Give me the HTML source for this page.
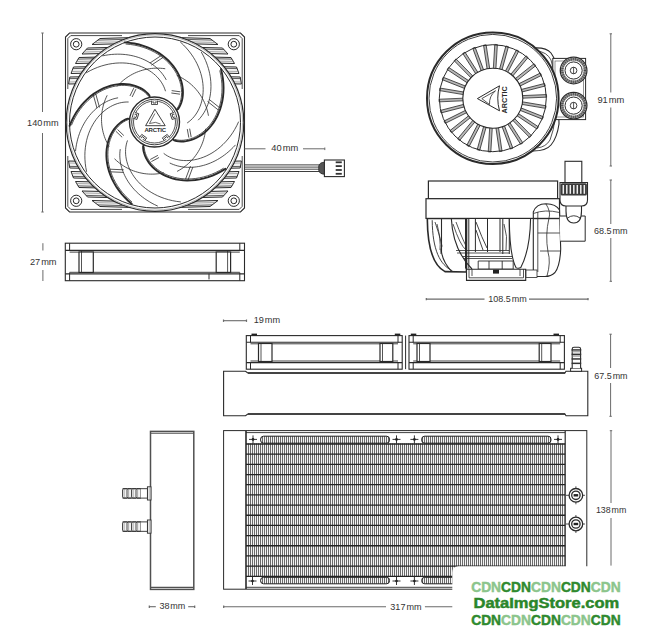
<!DOCTYPE html>
<html><head><meta charset="utf-8"><style>
html,body{margin:0;padding:0;background:#fff;}
body{width:658px;height:640px;overflow:hidden;}
svg{display:block;font-family:"Liberation Sans",sans-serif;}
</style></head><body>
<svg width="658" height="640" viewBox="0 0 658 640">
<path d="M69.5,33 H240.5 L244.5,37 V208 L240.5,212 H69.5 L65.5,208 V37 Z" fill="#fff" stroke="#2a2a2a" stroke-width="1.1"/>
<g fill="none" stroke="#2a2a2a" stroke-width="0.85"><path d="M122,35.6 H70.8 L67.8,38.6 V89"/><path d="M122,35.6 H70.8 L67.8,38.6 V89" transform="translate(310,0) scale(-1,1)"/><path d="M122,35.6 H70.8 L67.8,38.6 V89" transform="translate(0,245) scale(1,-1)"/><path d="M122,35.6 H70.8 L67.8,38.6 V89" transform="translate(310,245) scale(-1,-1)"/></g>
<circle cx="76.2" cy="44.2" r="5.6" fill="none" stroke="#2a2a2a" stroke-width="1"/>
<circle cx="76.2" cy="44.2" r="2.9" fill="none" stroke="#2a2a2a" stroke-width="1"/>
<circle cx="233.8" cy="44.2" r="5.6" fill="none" stroke="#2a2a2a" stroke-width="1"/>
<circle cx="233.8" cy="44.2" r="2.9" fill="none" stroke="#2a2a2a" stroke-width="1"/>
<circle cx="76.2" cy="200.8" r="5.6" fill="none" stroke="#2a2a2a" stroke-width="1"/>
<circle cx="76.2" cy="200.8" r="2.9" fill="none" stroke="#2a2a2a" stroke-width="1"/>
<circle cx="233.8" cy="200.8" r="5.6" fill="none" stroke="#2a2a2a" stroke-width="1"/>
<circle cx="233.8" cy="200.8" r="2.9" fill="none" stroke="#2a2a2a" stroke-width="1"/>
<defs><clipPath id="outring"><path clip-rule="evenodd" d="M67.8,35.3H242.2V209.7H67.8Z M155,122.5 m-88.8,0 a88.8,88.8 0 1,0 177.6,0 a88.8,88.8 0 1,0 -177.6,0Z"/></clipPath></defs>
<g clip-path="url(#outring)">
<g><path d="M100,38.5 L175,36.3 L175,42.3 L92,44.5 Z" fill="#f2f2f2" stroke="#2a2a2a" stroke-width="1"/><path d="M97.87,40.1 L175,37.9" fill="none" stroke="#3a3a3a" stroke-width="0.8"/><path d="M94.67,42.5 L175,40.3" fill="none" stroke="#8a8a8a" stroke-width="0.7"/><path d="M87.5,48 L175,45.8 L175,51.8 L82,54 Z" fill="#f2f2f2" stroke="#2a2a2a" stroke-width="1"/><path d="M86.03,49.6 L175,47.4" fill="none" stroke="#3a3a3a" stroke-width="0.8"/><path d="M83.83,52 L175,49.8" fill="none" stroke="#8a8a8a" stroke-width="0.7"/><path d="M79,57.5 L175,55.3 L175,61.3 L75.5,63.5 Z" fill="#f2f2f2" stroke="#2a2a2a" stroke-width="1"/><path d="M78.07,59.1 L175,56.9" fill="none" stroke="#3a3a3a" stroke-width="0.8"/><path d="M76.67,61.5 L175,59.3" fill="none" stroke="#8a8a8a" stroke-width="0.7"/><path d="M73.5,67 L175,64.8 L175,71.3 L71,73.5 Z" fill="#f2f2f2" stroke="#2a2a2a" stroke-width="1"/><path d="M72.88,68.6 L175,66.4" fill="none" stroke="#3a3a3a" stroke-width="0.8"/><path d="M71.77,71.5 L175,69.3" fill="none" stroke="#8a8a8a" stroke-width="0.7"/><path d="M69.8,77 L175,74.8 L175,81.8 L68.6,84 Z" fill="#f2f2f2" stroke="#2a2a2a" stroke-width="1"/><path d="M69.53,78.6 L175,76.4" fill="none" stroke="#3a3a3a" stroke-width="0.8"/><path d="M68.94,82 L175,79.8" fill="none" stroke="#8a8a8a" stroke-width="0.7"/></g>
<g transform="translate(310,0) scale(-1,1)"><path d="M100,38.5 L175,36.3 L175,42.3 L92,44.5 Z" fill="#f2f2f2" stroke="#2a2a2a" stroke-width="1"/><path d="M97.87,40.1 L175,37.9" fill="none" stroke="#3a3a3a" stroke-width="0.8"/><path d="M94.67,42.5 L175,40.3" fill="none" stroke="#8a8a8a" stroke-width="0.7"/><path d="M87.5,48 L175,45.8 L175,51.8 L82,54 Z" fill="#f2f2f2" stroke="#2a2a2a" stroke-width="1"/><path d="M86.03,49.6 L175,47.4" fill="none" stroke="#3a3a3a" stroke-width="0.8"/><path d="M83.83,52 L175,49.8" fill="none" stroke="#8a8a8a" stroke-width="0.7"/><path d="M79,57.5 L175,55.3 L175,61.3 L75.5,63.5 Z" fill="#f2f2f2" stroke="#2a2a2a" stroke-width="1"/><path d="M78.07,59.1 L175,56.9" fill="none" stroke="#3a3a3a" stroke-width="0.8"/><path d="M76.67,61.5 L175,59.3" fill="none" stroke="#8a8a8a" stroke-width="0.7"/><path d="M73.5,67 L175,64.8 L175,71.3 L71,73.5 Z" fill="#f2f2f2" stroke="#2a2a2a" stroke-width="1"/><path d="M72.88,68.6 L175,66.4" fill="none" stroke="#3a3a3a" stroke-width="0.8"/><path d="M71.77,71.5 L175,69.3" fill="none" stroke="#8a8a8a" stroke-width="0.7"/><path d="M69.8,77 L175,74.8 L175,81.8 L68.6,84 Z" fill="#f2f2f2" stroke="#2a2a2a" stroke-width="1"/><path d="M69.53,78.6 L175,76.4" fill="none" stroke="#3a3a3a" stroke-width="0.8"/><path d="M68.94,82 L175,79.8" fill="none" stroke="#8a8a8a" stroke-width="0.7"/></g>
<g transform="translate(0,245) scale(1,-1)"><path d="M100,38.5 L175,36.3 L175,42.3 L92,44.5 Z" fill="#f2f2f2" stroke="#2a2a2a" stroke-width="1"/><path d="M97.87,40.1 L175,37.9" fill="none" stroke="#3a3a3a" stroke-width="0.8"/><path d="M94.67,42.5 L175,40.3" fill="none" stroke="#8a8a8a" stroke-width="0.7"/><path d="M87.5,48 L175,45.8 L175,51.8 L82,54 Z" fill="#f2f2f2" stroke="#2a2a2a" stroke-width="1"/><path d="M86.03,49.6 L175,47.4" fill="none" stroke="#3a3a3a" stroke-width="0.8"/><path d="M83.83,52 L175,49.8" fill="none" stroke="#8a8a8a" stroke-width="0.7"/><path d="M79,57.5 L175,55.3 L175,61.3 L75.5,63.5 Z" fill="#f2f2f2" stroke="#2a2a2a" stroke-width="1"/><path d="M78.07,59.1 L175,56.9" fill="none" stroke="#3a3a3a" stroke-width="0.8"/><path d="M76.67,61.5 L175,59.3" fill="none" stroke="#8a8a8a" stroke-width="0.7"/><path d="M73.5,67 L175,64.8 L175,71.3 L71,73.5 Z" fill="#f2f2f2" stroke="#2a2a2a" stroke-width="1"/><path d="M72.88,68.6 L175,66.4" fill="none" stroke="#3a3a3a" stroke-width="0.8"/><path d="M71.77,71.5 L175,69.3" fill="none" stroke="#8a8a8a" stroke-width="0.7"/><path d="M69.8,77 L175,74.8 L175,81.8 L68.6,84 Z" fill="#f2f2f2" stroke="#2a2a2a" stroke-width="1"/><path d="M69.53,78.6 L175,76.4" fill="none" stroke="#3a3a3a" stroke-width="0.8"/><path d="M68.94,82 L175,79.8" fill="none" stroke="#8a8a8a" stroke-width="0.7"/></g>
<g transform="translate(310,245) scale(-1,-1)"><path d="M100,38.5 L175,36.3 L175,42.3 L92,44.5 Z" fill="#f2f2f2" stroke="#2a2a2a" stroke-width="1"/><path d="M97.87,40.1 L175,37.9" fill="none" stroke="#3a3a3a" stroke-width="0.8"/><path d="M94.67,42.5 L175,40.3" fill="none" stroke="#8a8a8a" stroke-width="0.7"/><path d="M87.5,48 L175,45.8 L175,51.8 L82,54 Z" fill="#f2f2f2" stroke="#2a2a2a" stroke-width="1"/><path d="M86.03,49.6 L175,47.4" fill="none" stroke="#3a3a3a" stroke-width="0.8"/><path d="M83.83,52 L175,49.8" fill="none" stroke="#8a8a8a" stroke-width="0.7"/><path d="M79,57.5 L175,55.3 L175,61.3 L75.5,63.5 Z" fill="#f2f2f2" stroke="#2a2a2a" stroke-width="1"/><path d="M78.07,59.1 L175,56.9" fill="none" stroke="#3a3a3a" stroke-width="0.8"/><path d="M76.67,61.5 L175,59.3" fill="none" stroke="#8a8a8a" stroke-width="0.7"/><path d="M73.5,67 L175,64.8 L175,71.3 L71,73.5 Z" fill="#f2f2f2" stroke="#2a2a2a" stroke-width="1"/><path d="M72.88,68.6 L175,66.4" fill="none" stroke="#3a3a3a" stroke-width="0.8"/><path d="M71.77,71.5 L175,69.3" fill="none" stroke="#8a8a8a" stroke-width="0.7"/><path d="M69.8,77 L175,74.8 L175,81.8 L68.6,84 Z" fill="#f2f2f2" stroke="#2a2a2a" stroke-width="1"/><path d="M69.53,78.6 L175,76.4" fill="none" stroke="#3a3a3a" stroke-width="0.8"/><path d="M68.94,82 L175,79.8" fill="none" stroke="#8a8a8a" stroke-width="0.7"/></g>
</g>
<circle cx="155" cy="122.5" r="88.8" fill="#fff" stroke="#2a2a2a" stroke-width="1.2"/>
<circle cx="155" cy="122.5" r="87.6" fill="none" stroke="#888" stroke-width="0.6"/>
<circle cx="155" cy="122.5" r="85.5" fill="none" stroke="#2a2a2a" stroke-width="1"/>
<g fill="none" stroke-linecap="round">
<path d="M187.49,122.74 L189.2,121.49 L190.85,120.08 L192.44,118.53 L193.96,116.82 L195.4,114.97 L196.75,112.98 L197.99,110.85 L199.13,108.59 L200.14,106.2 L201.03,103.69 L201.77,101.07 L202.37,98.33 L202.81,95.5 L203.09,92.58 L203.19,89.57 L203.11,86.49 L202.85,83.35 L202.4,80.16 L201.74,76.92 L200.88,73.65 L199.82,70.37 L198.54,67.08 L197.05,63.79 L195.34,60.53 L193.41,57.3 L191.26,54.11 L188.89,50.99 L186.29,47.94 L183.48,44.97 L180.46,42.11" stroke="#2a2a2a" stroke-width="0.8"/>
<path d="M198.45,119.89 L199.7,118.52 L200.91,117.08 L202.06,115.55 L203.17,113.94 L204.22,112.25 L205.21,110.48 L206.13,108.63 L206.99,106.71 L207.77,104.72 L208.47,102.66 L209.1,100.53 L209.64,98.34 L210.09,96.09 L210.46,93.78 L210.72,91.42 L210.89,89.01 L210.96,86.55 L210.92,84.05 L210.78,81.51 L210.53,78.94 L210.16,76.33 L209.68,73.7 L209.09,71.05 L208.37,68.39 L207.53,65.71 L206.57,63.03 L205.49,60.35 L204.27,57.68 L202.94,55.01 L201.47,52.36" stroke="#2a2a2a" stroke-width="0.8"/>
<path d="M208.4,115.38 L207.96,113.17 L207.44,110.99 L206.83,108.83 L206.13,106.71 L205.35,104.62 L204.48,102.56 L203.53,100.55 L202.5,98.59 L201.39,96.68 L200.2,94.81 L198.94,93 L197.61,91.25 L196.21,89.56 L194.74,87.93 L193.21,86.37 L191.62,84.88 L189.98,83.45 L188.28,82.1 L186.52,80.83 L184.73,79.63 L182.88,78.5 L181,77.46 L179.08,76.5 L177.12,75.62" stroke="#2a2a2a" stroke-width="0.8"/>
<path d="M207.84,101.69 L218.17,109.9 M209.46,99.65 L219.79,107.86" stroke="#2a2a2a" stroke-width="0.8"/>
<path d="M171.74,93.05 L179.59,94.13 M172.06,90.67 L179.92,91.75" stroke="#2a2a2a" stroke-width="0.8"/>
<path d="M165.39,90.85 L164.73,88.84 L163.91,86.84 L162.92,84.84 L161.77,82.87 L160.46,80.93 L158.98,79.03 L157.34,77.19 L155.54,75.41 L153.58,73.71 L151.46,72.09 L149.2,70.57 L146.78,69.16 L144.23,67.87 L141.53,66.7 L138.7,65.67 L135.75,64.79 L132.68,64.07 L129.5,63.52 L126.22,63.14 L122.85,62.95 L119.4,62.94 L115.88,63.14 L112.29,63.55 L108.66,64.16 L104.99,65 L101.29,66.06 L97.59,67.35 L93.89,68.87 L90.2,70.63 L86.54,72.63" stroke="#2a2a2a" stroke-width="0.8"/>
<path d="M166.07,79.55 L165.16,77.94 L164.16,76.34 L163.06,74.77 L161.87,73.22 L160.59,71.7 L159.21,70.21 L157.74,68.77 L156.18,67.36 L154.53,66 L152.79,64.69 L150.96,63.44 L149.04,62.25 L147.04,61.12 L144.96,60.06 L142.79,59.08 L140.55,58.17 L138.23,57.35 L135.84,56.61 L133.38,55.96 L130.86,55.41 L128.27,54.95 L125.62,54.59 L122.92,54.34 L120.16,54.2 L117.36,54.17 L114.51,54.26 L111.62,54.46 L108.71,54.78 L105.76,55.23 L102.78,55.81" stroke="#2a2a2a" stroke-width="0.8"/>
<path d="M164.86,68.7 L162.63,68.43 L160.39,68.25 L158.15,68.16 L155.91,68.17 L153.68,68.27 L151.46,68.46 L149.25,68.75 L147.07,69.12 L144.9,69.58 L142.76,70.14 L140.65,70.78 L138.58,71.5 L136.54,72.31 L134.54,73.2 L132.58,74.17 L130.67,75.22 L128.8,76.35 L126.99,77.55 L125.24,78.82 L123.54,80.16 L121.9,81.57 L120.33,83.04 L118.82,84.57 L117.38,86.16" stroke="#2a2a2a" stroke-width="0.8"/>
<path d="M151.66,64.99 L162.67,57.71 M150.23,62.82 L161.23,55.54" stroke="#2a2a2a" stroke-width="0.8"/>
<path d="M132.29,96.66 L135.75,89.52 M130.13,95.62 L133.59,88.48" stroke="#2a2a2a" stroke-width="0.8"/>
<path d="M128.24,102.01 L126.13,102.02 L123.97,102.18 L121.76,102.51 L119.53,102.99 L117.28,103.64 L115.02,104.46 L112.76,105.45 L110.51,106.62 L108.29,107.95 L106.1,109.46 L103.95,111.15 L101.86,113.01 L99.84,115.04 L97.9,117.25 L96.05,119.62 L94.3,122.15 L92.67,124.85 L91.16,127.7 L89.78,130.7 L88.56,133.85 L87.49,137.13 L86.59,140.55 L85.86,144.08 L85.33,147.73 L84.99,151.48 L84.86,155.32 L84.94,159.24 L85.24,163.23 L85.78,167.28 L86.54,171.37" stroke="#2a2a2a" stroke-width="0.8"/>
<path d="M117.7,97.88 L115.89,98.25 L114.06,98.71 L112.23,99.26 L110.39,99.92 L108.54,100.67 L106.7,101.52 L104.87,102.47 L103.05,103.52 L101.25,104.67 L99.47,105.92 L97.71,107.27 L95.99,108.73 L94.3,110.28 L92.65,111.94 L91.04,113.69 L89.49,115.54 L87.99,117.49 L86.54,119.54 L85.17,121.68 L83.86,123.91 L82.62,126.23 L81.47,128.64 L80.39,131.13 L79.41,133.71 L78.51,136.37 L77.71,139.1 L77.02,141.91 L76.42,144.78 L75.94,147.73 L75.57,150.73" stroke="#2a2a2a" stroke-width="0.8"/>
<path d="M107.01,95.67 L106.06,97.72 L105.2,99.79 L104.42,101.89 L103.74,104.02 L103.14,106.18 L102.64,108.35 L102.23,110.53 L101.91,112.73 L101.68,114.93 L101.55,117.13 L101.5,119.34 L101.55,121.54 L101.69,123.73 L101.92,125.91 L102.24,128.07 L102.65,130.21 L103.14,132.33 L103.72,134.43 L104.39,136.49 L105.14,138.52 L105.97,140.51 L106.88,142.46 L107.87,144.36 L108.94,146.22" stroke="#2a2a2a" stroke-width="0.8"/>
<path d="M99.41,107.08 L95.88,94.37 M96.9,107.78 L93.37,95.06" stroke="#2a2a2a" stroke-width="0.8"/>
<path d="M123.54,135.29 L117.82,129.8 M121.88,137.02 L116.16,131.53" stroke="#2a2a2a" stroke-width="0.8"/>
<path d="M127.38,140.8 L126.73,142.81 L126.22,144.92 L125.85,147.11 L125.62,149.38 L125.54,151.73 L125.62,154.13 L125.86,156.58 L126.28,159.08 L126.86,161.61 L127.62,164.16 L128.56,166.72 L129.68,169.28 L130.99,171.83 L132.49,174.36 L134.17,176.85 L136.04,179.3 L138.1,181.69 L140.35,184.01 L142.78,186.24 L145.39,188.38 L148.18,190.41 L151.15,192.32 L154.29,194.1 L157.59,195.74 L161.05,197.22 L164.67,198.53 L168.42,199.66 L172.31,200.61 L176.33,201.35 L180.46,201.89" stroke="#2a2a2a" stroke-width="0.8"/>
<path d="M120.19,149.54 L119.98,151.38 L119.85,153.26 L119.81,155.18 L119.86,157.13 L120.01,159.12 L120.25,161.13 L120.59,163.16 L121.02,165.22 L121.56,167.29 L122.2,169.37 L122.95,171.46 L123.8,173.55 L124.75,175.64 L125.82,177.72 L126.99,179.78 L128.27,181.84 L129.66,183.87 L131.16,185.87 L132.77,187.84 L134.48,189.77 L136.31,191.66 L138.24,193.51 L140.28,195.3 L142.43,197.04 L144.68,198.71 L147.03,200.31 L149.49,201.84 L152.04,203.3 L154.69,204.67 L157.43,205.95" stroke="#2a2a2a" stroke-width="0.8"/>
<path d="M114.79,159.03 L116.44,160.57 L118.14,162.03 L119.9,163.41 L121.72,164.72 L123.58,165.95 L125.49,167.1 L127.44,168.17 L129.43,169.15 L131.45,170.05 L133.51,170.86 L135.59,171.58 L137.7,172.21 L139.83,172.76 L141.97,173.21 L144.12,173.58 L146.29,173.85 L148.46,174.04 L150.63,174.13 L152.79,174.13 L154.95,174.05 L157.11,173.87 L159.24,173.61 L161.36,173.26 L163.46,172.82" stroke="#2a2a2a" stroke-width="0.8"/>
<path d="M123.29,169.79 L110.1,169.21 M123.17,172.38 L109.99,171.81" stroke="#2a2a2a" stroke-width="0.8"/>
<path d="M157.57,155.55 L150.58,159.3 M158.7,157.67 L151.71,161.41" stroke="#2a2a2a" stroke-width="0.8"/>
<path d="M164,153.6 L165.71,154.84 L167.55,155.98 L169.53,157.01 L171.62,157.93 L173.82,158.73 L176.13,159.39 L178.54,159.92 L181.04,160.3 L183.63,160.53 L186.29,160.59 L189.02,160.49 L191.8,160.21 L194.63,159.76 L197.5,159.12 L200.39,158.29 L203.29,157.26 L206.2,156.04 L209.1,154.62 L211.97,153 L214.81,151.17 L217.61,149.15 L220.34,146.91 L223.01,144.48 L225.58,141.84 L228.06,139.01 L230.42,135.98 L232.66,132.76 L234.76,129.35 L236.71,125.76 L238.5,122" stroke="#2a2a2a" stroke-width="0.8"/>
<path d="M170.09,163.14 L171.77,163.91 L173.52,164.61 L175.33,165.24 L177.21,165.8 L179.14,166.27 L181.13,166.66 L183.17,166.97 L185.26,167.19 L187.39,167.32 L189.57,167.36 L191.79,167.29 L194.04,167.13 L196.32,166.87 L198.63,166.5 L200.96,166.02 L203.3,165.44 L205.66,164.74 L208.03,163.94 L210.4,163.01 L212.77,161.98 L215.13,160.83 L217.49,159.56 L219.82,158.17 L222.13,156.67 L224.42,155.04 L226.67,153.3 L228.89,151.44 L231.06,149.46 L233.18,147.37 L235.25,145.15" stroke="#2a2a2a" stroke-width="0.8"/>
<path d="M177.45,171.21 L179.42,170.12 L181.33,168.95 L183.2,167.7 L185,166.38 L186.75,164.99 L188.43,163.53 L190.05,162 L191.59,160.41 L193.07,158.76 L194.48,157.06 L195.81,155.3 L197.06,153.5 L198.24,151.64 L199.33,149.74 L200.35,147.81 L201.28,145.83 L202.12,143.83 L202.88,141.79 L203.56,139.73 L204.14,137.65 L204.64,135.55 L205.05,133.44 L205.37,131.31 L205.6,129.18" stroke="#2a2a2a" stroke-width="0.8"/>
<path d="M190.3,166.45 L185.68,178.81 M192.74,167.36 L188.12,179.72" stroke="#2a2a2a" stroke-width="0.8"/>
<path d="M187.36,129.45 L188.76,137.25 M189.72,129.02 L191.12,136.83" stroke="#2a2a2a" stroke-width="0.8"/>
<path d="M172.78,139.05 L174.25,140.41 L176.39,141.02 L178.69,141.38 L181.1,141.53 L183.59,141.46 L186.15,141.17 L188.75,140.66 L191.37,139.92 L194.02,138.96 L196.65,137.75 L199.27,136.31 L201.85,134.62 L204.37,132.7 L206.81,130.53 L209.16,128.13 L211.39,125.49 L213.5,122.63 L215.45,119.53 L217.24,116.23 L218.83,112.71 L220.23,109 L221.4,105.1 L222.33,101.03 L223.01,96.8 L223.42,92.43 L223.55,87.93 L223.38,83.32 L222.91,78.62 L222.11,73.85 L220.98,69.03" stroke="#2a2a2a" stroke-width="1.9"/>
<path d="M175.06,139.5 L177.08,139.99 L179.23,140.24 L181.47,140.31 L183.78,140.19 L186.13,139.87 L188.52,139.37 L190.94,138.66 L193.36,137.75 L195.78,136.64 L198.18,135.33 L200.54,133.8 L202.86,132.07 L205.12,130.13 L207.29,127.99 L209.38,125.64 L211.36,123.1 L213.21,120.36 L214.93,117.42 L216.49,114.31 L217.89,111.02 L219.11,107.56 L220.13,103.95 L220.94,100.19 L221.54,96.29 L221.9,92.27 L222.02,88.14 L221.88,83.92 L221.48,79.62 L220.81,75.25 L219.85,70.83" stroke="#2a2a2a" stroke-width="0.8"/>
<path d="M176.37,109.88 L178.11,108.91 L179.36,107.06 L180.41,104.98 L181.29,102.73 L182,100.34 L182.51,97.83 L182.83,95.2 L182.94,92.47 L182.84,89.66 L182.51,86.78 L181.94,83.84 L181.13,80.87 L180.08,77.88 L178.78,74.89 L177.22,71.91 L175.4,68.97 L173.33,66.08 L170.99,63.27 L168.4,60.55 L165.55,57.95 L162.45,55.47 L159.1,53.15 L155.52,51.01 L151.71,49.05 L147.68,47.31 L143.44,45.8 L139,44.54 L134.38,43.54 L129.6,42.82 L124.67,42.41" stroke="#2a2a2a" stroke-width="1.9"/>
<path d="M177.5,107.85 L178.58,106.08 L179.49,104.11 L180.25,102 L180.84,99.78 L181.27,97.44 L181.53,95.01 L181.61,92.49 L181.49,89.91 L181.18,87.27 L180.67,84.58 L179.95,81.86 L179.02,79.12 L177.88,76.37 L176.51,73.64 L174.92,70.93 L173.11,68.27 L171.08,65.66 L168.82,63.12 L166.34,60.67 L163.65,58.32 L160.73,56.09 L157.61,54 L154.29,52.07 L150.77,50.3 L147.06,48.71 L143.17,47.32 L139.11,46.15 L134.89,45.2 L130.53,44.49 L126.03,44.03" stroke="#2a2a2a" stroke-width="0.8"/>
<path d="M149.73,97.46 L149.35,95.5 L147.97,93.74 L146.32,92.1 L144.45,90.57 L142.4,89.16 L140.17,87.89 L137.76,86.77 L135.2,85.82 L132.5,85.06 L129.65,84.48 L126.69,84.11 L123.61,83.96 L120.45,84.04 L117.2,84.35 L113.88,84.91 L110.53,85.73 L107.14,86.82 L103.74,88.17 L100.35,89.8 L96.99,91.7 L93.69,93.88 L90.45,96.35 L87.3,99.09 L84.26,102.11 L81.36,105.41 L78.61,108.98 L76.04,112.8 L73.66,116.89 L71.5,121.21 L69.58,125.77" stroke="#2a2a2a" stroke-width="1.9"/>
<path d="M148.15,95.76 L146.8,94.18 L145.21,92.7 L143.44,91.33 L141.5,90.08 L139.41,88.95 L137.18,87.95 L134.81,87.1 L132.32,86.41 L129.71,85.89 L127,85.54 L124.19,85.39 L121.29,85.42 L118.33,85.67 L115.31,86.12 L112.24,86.8 L109.15,87.69 L106.04,88.82 L102.92,90.18 L99.83,91.78 L96.76,93.62 L93.75,95.7 L90.79,98.03 L87.92,100.59 L85.15,103.39 L82.5,106.43 L79.97,109.7 L77.6,113.2 L75.4,116.92 L73.37,120.85 L71.55,124.98" stroke="#2a2a2a" stroke-width="0.8"/>
<path d="M129.69,118.95 L127.7,118.71 L125.61,119.48 L123.53,120.54 L121.5,121.84 L119.53,123.36 L117.63,125.09 L115.83,127.03 L114.13,129.17 L112.56,131.51 L111.14,134.04 L109.87,136.74 L108.78,139.62 L107.87,142.66 L107.17,145.84 L106.68,149.17 L106.42,152.62 L106.4,156.17 L106.64,159.82 L107.14,163.54 L107.91,167.33 L108.97,171.15 L110.31,174.99 L111.95,178.83 L113.88,182.66 L116.12,186.44 L118.66,190.15 L121.51,193.78 L124.66,197.3 L128.11,200.69 L131.85,203.93" stroke="#2a2a2a" stroke-width="1.9"/>
<path d="M127.58,119.93 L125.66,120.72 L123.77,121.78 L121.92,123.04 L120.12,124.5 L118.4,126.13 L116.77,127.95 L115.23,129.94 L113.8,132.1 L112.5,134.42 L111.33,136.89 L110.31,139.51 L109.45,142.28 L108.77,145.17 L108.27,148.19 L107.96,151.31 L107.86,154.53 L107.97,157.84 L108.3,161.22 L108.87,164.66 L109.67,168.14 L110.72,171.65 L112.01,175.18 L113.57,178.7 L115.37,182.2 L117.44,185.67 L119.78,189.08 L122.37,192.42 L125.22,195.66 L128.33,198.8 L131.7,201.81" stroke="#2a2a2a" stroke-width="0.8"/>
<path d="M143.93,144.66 L143.09,146.47 L143.17,148.7 L143.54,151 L144.15,153.34 L144.99,155.68 L146.05,158.02 L147.33,160.34 L148.85,162.61 L150.59,164.82 L152.55,166.96 L154.73,169 L157.13,170.93 L159.74,172.73 L162.55,174.39 L165.56,175.88 L168.76,177.19 L172.14,178.3 L175.68,179.21 L179.38,179.88 L183.21,180.31 L187.17,180.49 L191.24,180.4 L195.4,180.03 L199.64,179.37 L203.92,178.41 L208.24,177.14 L212.57,175.56 L216.89,173.65 L221.18,171.42 L225.42,168.86" stroke="#2a2a2a" stroke-width="1.9"/>
<path d="M144.21,146.96 L144.37,149.03 L144.79,151.16 L145.42,153.31 L146.25,155.46 L147.28,157.61 L148.5,159.73 L149.91,161.8 L151.52,163.83 L153.33,165.78 L155.32,167.66 L157.5,169.44 L159.87,171.11 L162.41,172.65 L165.12,174.06 L167.99,175.32 L171.03,176.41 L174.21,177.33 L177.52,178.06 L180.97,178.58 L184.53,178.89 L188.19,178.98 L191.95,178.84 L195.78,178.45 L199.67,177.81 L203.6,176.92 L207.56,175.75 L211.54,174.32 L215.51,172.61 L219.45,170.62 L223.36,168.34" stroke="#2a2a2a" stroke-width="0.8"/>
</g>
<circle cx="154.5" cy="122" r="25" fill="#fff" stroke="#2a2a2a" stroke-width="1.4"/>
<circle cx="154.5" cy="122" r="22.8" fill="none" stroke="#2a2a2a" stroke-width="0.9"/>
<circle cx="154.5" cy="122" r="21" fill="none" stroke="#2a2a2a" stroke-width="0.8"/>
<g transform="translate(154.5,122) rotate(0)"><path d="M-3,-21.3 V-17.5 H3 V-21.3 M-1.5,-21 V-19 H1.5 V-21" fill="#fff" stroke="#2a2a2a" stroke-width="0.8"/></g>
<g transform="translate(154.5,122) rotate(72)"><path d="M-3,-21.3 V-17.5 H3 V-21.3 M-1.5,-21 V-19 H1.5 V-21" fill="#fff" stroke="#2a2a2a" stroke-width="0.8"/></g>
<g transform="translate(154.5,122) rotate(144)"><path d="M-3,-21.3 V-17.5 H3 V-21.3 M-1.5,-21 V-19 H1.5 V-21" fill="#fff" stroke="#2a2a2a" stroke-width="0.8"/></g>
<g transform="translate(154.5,122) rotate(216)"><path d="M-3,-21.3 V-17.5 H3 V-21.3 M-1.5,-21 V-19 H1.5 V-21" fill="#fff" stroke="#2a2a2a" stroke-width="0.8"/></g>
<g transform="translate(154.5,122) rotate(-72)"><path d="M-3,-21.3 V-17.5 H3 V-21.3 M-1.5,-21 V-19 H1.5 V-21" fill="#fff" stroke="#2a2a2a" stroke-width="0.8"/></g>
<path d="M154.9,109.3 L145.6,125.7 L165.2,125.7 Z" fill="none" stroke="#2a2a2a" stroke-width="0.9"/>
<path d="M154.9,113.5 L149.5,123.5 Q156,121 160.5,124" fill="none" stroke="#2a2a2a" stroke-width="0.7"/>
<text x="155.2" y="132" font-size="6" font-weight="bold" text-anchor="middle" fill="#2a2a2a" letter-spacing="-0.2">ARCTIC</text>
<rect x="244.5" y="164.9" width="76" height="6.6" fill="#fff" stroke="#2a2a2a" stroke-width="0.9"/>
<line x1="244.5" y1="167.1" x2="320" y2="167.1" stroke="#333" stroke-width="0.9" />
<line x1="244.5" y1="169.2" x2="320" y2="169.2" stroke="#333" stroke-width="0.9" />
<path d="M324.5,162.2 Q319.5,162.5 318.8,166 V170.4 Q319.5,174 324.5,174.2 Z" fill="#555" stroke="#2a2a2a" stroke-width="0.9"/>
<rect x="324.4" y="160" width="20" height="16.6" fill="#fff" stroke="#2a2a2a" stroke-width="1.1"/>
<rect x="335.7" y="161.4" width="6.1" height="1.8" fill="#333"/>
<rect x="335.7" y="165.2" width="6.1" height="1.8" fill="#333"/>
<rect x="335.7" y="169.1" width="6.1" height="1.8" fill="#333"/>
<rect x="335.7" y="172.9" width="6.1" height="1.8" fill="#333"/>
<rect x="65.3" y="243.2" width="179.2" height="37.5" fill="#fff" stroke="#2a2a2a" stroke-width="1.1"/>
<line x1="65.3" y1="250.4" x2="244.5" y2="250.4" stroke="#2a2a2a" stroke-width="1.1" />
<line x1="69.6" y1="252.1" x2="239.8" y2="252.1" stroke="#2a2a2a" stroke-width="0.9" />
<line x1="65.3" y1="273.9" x2="244.5" y2="273.9" stroke="#2a2a2a" stroke-width="1.1" />
<line x1="69.6" y1="272.3" x2="239.8" y2="272.3" stroke="#2a2a2a" stroke-width="0.9" />
<line x1="69.6" y1="243.2" x2="69.6" y2="250.8" stroke="#2a2a2a" stroke-width="1" />
<line x1="69.6" y1="272.6" x2="69.6" y2="280.7" stroke="#2a2a2a" stroke-width="1" />
<line x1="239.8" y1="243.2" x2="239.8" y2="250.8" stroke="#2a2a2a" stroke-width="1" />
<line x1="239.8" y1="272.6" x2="239.8" y2="280.7" stroke="#2a2a2a" stroke-width="1" />
<rect x="79" y="252" width="14.3" height="20.4" fill="#fff" stroke="#2a2a2a" stroke-width="1.2"/>
<line x1="81.5" y1="251" x2="81.5" y2="272.4" stroke="#2a2a2a" stroke-width="0.8" />
<rect x="216.2" y="252" width="14.4" height="20.4" fill="#fff" stroke="#2a2a2a" stroke-width="1.2"/>
<line x1="227.6" y1="251" x2="227.6" y2="272.4" stroke="#2a2a2a" stroke-width="0.8" />
<line x1="209" y1="273.6" x2="209" y2="279.4" stroke="#2a2a2a" stroke-width="1" />
<line x1="42.5" y1="33" x2="42.5" y2="112" stroke="#6a6a6a" stroke-width="1" />
<line x1="41.3" y1="33" x2="43.7" y2="33" stroke="#6a6a6a" stroke-width="1" />
<line x1="42.5" y1="133" x2="42.5" y2="212" stroke="#6a6a6a" stroke-width="1" />
<line x1="41.3" y1="212" x2="43.7" y2="212" stroke="#6a6a6a" stroke-width="1" />
<text x="27.1" y="125.5" font-size="9.8" fill="#333" textLength="31.5" lengthAdjust="spacingAndGlyphs">140<tspan dx="1">mm</tspan></text>
<line x1="42.9" y1="243.2" x2="42.9" y2="250.5" stroke="#6a6a6a" stroke-width="1" />
<line x1="42.9" y1="270" x2="42.9" y2="281" stroke="#6a6a6a" stroke-width="1" />
<text x="29.9" y="264.9" font-size="9.8" fill="#333" textLength="26.7" lengthAdjust="spacingAndGlyphs">27<tspan dx="1">mm</tspan></text>
<line x1="244.6" y1="148.8" x2="265.5" y2="148.8" stroke="#6a6a6a" stroke-width="1" />
<line x1="303" y1="148.8" x2="324.8" y2="148.8" stroke="#6a6a6a" stroke-width="1" />
<line x1="324.8" y1="147.5" x2="324.8" y2="150.1" stroke="#6a6a6a" stroke-width="1" />
<text x="271.3" y="151.4" font-size="9.8" fill="#333" textLength="26.9" lengthAdjust="spacingAndGlyphs">40<tspan dx="1">mm</tspan></text>
<path d="M533,48 Q546,47 551,53 Q556,60 558,72 L559,124 Q557,138 551,145 Q546,151 533,151" fill="#fff" stroke="#2a2a2a" stroke-width="1.1"/>
<path d="M537,51 Q547,52 551,60 Q554,70 555,80 L555,118 Q554,130 550,140 Q546,147 537,148" fill="none" stroke="#2a2a2a" stroke-width="0.8"/>
<rect x="552.8" y="58.4" width="32.8" height="61.2" fill="#fff" stroke="#2a2a2a" stroke-width="1"/>
<rect x="555" y="61" width="28.5" height="56" fill="none" stroke="#666" stroke-width="0.7"/>
<circle cx="573.6" cy="70.5" r="13.3" fill="#fff" stroke="#2a2a2a" stroke-width="1.3"/>
<circle cx="573.6" cy="70.5" r="11.4" fill="none" stroke="#8a8a8a" stroke-width="2.6"/>
<circle cx="573.6" cy="70.5" r="11.4" fill="none" stroke="#444" stroke-width="2.6" stroke-dasharray="0.7 1.5"/>
<circle cx="573.6" cy="70.5" r="8.6" fill="#fff" stroke="#2a2a2a" stroke-width="1"/>
<circle cx="573.6" cy="70.5" r="3.3" fill="#fff" stroke="#2a2a2a" stroke-width="0.9"/>
<line x1="573.6" y1="67.2" x2="573.6" y2="73.8" stroke="#2a2a2a" stroke-width="0.8" />
<circle cx="573.6" cy="105.6" r="13.3" fill="#fff" stroke="#2a2a2a" stroke-width="1.3"/>
<circle cx="573.6" cy="105.6" r="11.4" fill="none" stroke="#8a8a8a" stroke-width="2.6"/>
<circle cx="573.6" cy="105.6" r="11.4" fill="none" stroke="#444" stroke-width="2.6" stroke-dasharray="0.7 1.5"/>
<circle cx="573.6" cy="105.6" r="8.6" fill="#fff" stroke="#2a2a2a" stroke-width="1"/>
<circle cx="573.6" cy="105.6" r="3.3" fill="#fff" stroke="#2a2a2a" stroke-width="0.9"/>
<line x1="573.6" y1="102.3" x2="573.6" y2="108.9" stroke="#2a2a2a" stroke-width="0.8" />
<circle cx="492.8" cy="98.2" r="65.8" fill="#fff" stroke="#2a2a2a" stroke-width="2"/>
<circle cx="492.8" cy="98.2" r="63.8" fill="none" stroke="#2a2a2a" stroke-width="0.9"/>
<g><rect x="522.3" y="96.9" width="24.3" height="2.6" fill="#b8b8b8" stroke="#2a2a2a" stroke-width="0.75" transform="rotate(9.5 492.8 98.2)"/><rect x="522.3" y="96.9" width="24.3" height="2.6" fill="#b8b8b8" stroke="#2a2a2a" stroke-width="0.75" transform="rotate(21.5 492.8 98.2)"/><rect x="522.3" y="96.9" width="24.3" height="2.6" fill="#b8b8b8" stroke="#2a2a2a" stroke-width="0.75" transform="rotate(33.5 492.8 98.2)"/><rect x="522.3" y="96.9" width="24.3" height="2.6" fill="#b8b8b8" stroke="#2a2a2a" stroke-width="0.75" transform="rotate(45.5 492.8 98.2)"/><rect x="522.3" y="96.9" width="24.3" height="2.6" fill="#b8b8b8" stroke="#2a2a2a" stroke-width="0.75" transform="rotate(57.5 492.8 98.2)"/><rect x="522.3" y="96.9" width="24.3" height="2.6" fill="#b8b8b8" stroke="#2a2a2a" stroke-width="0.75" transform="rotate(69.5 492.8 98.2)"/><rect x="522.3" y="96.9" width="24.3" height="2.6" fill="#b8b8b8" stroke="#2a2a2a" stroke-width="0.75" transform="rotate(81.5 492.8 98.2)"/><rect x="522.3" y="96.9" width="24.3" height="2.6" fill="#b8b8b8" stroke="#2a2a2a" stroke-width="0.75" transform="rotate(93.5 492.8 98.2)"/><rect x="522.3" y="96.9" width="24.3" height="2.6" fill="#b8b8b8" stroke="#2a2a2a" stroke-width="0.75" transform="rotate(105.5 492.8 98.2)"/><rect x="522.3" y="96.9" width="24.3" height="2.6" fill="#b8b8b8" stroke="#2a2a2a" stroke-width="0.75" transform="rotate(117.5 492.8 98.2)"/><rect x="522.3" y="96.9" width="24.3" height="2.6" fill="#b8b8b8" stroke="#2a2a2a" stroke-width="0.75" transform="rotate(129.5 492.8 98.2)"/><rect x="522.3" y="96.9" width="24.3" height="2.6" fill="#b8b8b8" stroke="#2a2a2a" stroke-width="0.75" transform="rotate(141.5 492.8 98.2)"/><rect x="522.3" y="96.9" width="24.3" height="2.6" fill="#b8b8b8" stroke="#2a2a2a" stroke-width="0.75" transform="rotate(153.5 492.8 98.2)"/><rect x="522.3" y="96.9" width="24.3" height="2.6" fill="#b8b8b8" stroke="#2a2a2a" stroke-width="0.75" transform="rotate(165.5 492.8 98.2)"/><rect x="522.3" y="96.9" width="24.3" height="2.6" fill="#b8b8b8" stroke="#2a2a2a" stroke-width="0.75" transform="rotate(177.5 492.8 98.2)"/><rect x="522.3" y="96.9" width="24.3" height="2.6" fill="#b8b8b8" stroke="#2a2a2a" stroke-width="0.75" transform="rotate(189.5 492.8 98.2)"/><rect x="522.3" y="96.9" width="24.3" height="2.6" fill="#b8b8b8" stroke="#2a2a2a" stroke-width="0.75" transform="rotate(201.5 492.8 98.2)"/><rect x="522.3" y="96.9" width="24.3" height="2.6" fill="#b8b8b8" stroke="#2a2a2a" stroke-width="0.75" transform="rotate(213.5 492.8 98.2)"/><rect x="522.3" y="96.9" width="24.3" height="2.6" fill="#b8b8b8" stroke="#2a2a2a" stroke-width="0.75" transform="rotate(225.5 492.8 98.2)"/><rect x="522.3" y="96.9" width="24.3" height="2.6" fill="#b8b8b8" stroke="#2a2a2a" stroke-width="0.75" transform="rotate(237.5 492.8 98.2)"/><rect x="522.3" y="96.9" width="24.3" height="2.6" fill="#b8b8b8" stroke="#2a2a2a" stroke-width="0.75" transform="rotate(249.5 492.8 98.2)"/><rect x="522.3" y="96.9" width="24.3" height="2.6" fill="#b8b8b8" stroke="#2a2a2a" stroke-width="0.75" transform="rotate(261.5 492.8 98.2)"/><rect x="522.3" y="96.9" width="24.3" height="2.6" fill="#b8b8b8" stroke="#2a2a2a" stroke-width="0.75" transform="rotate(273.5 492.8 98.2)"/><rect x="522.3" y="96.9" width="24.3" height="2.6" fill="#b8b8b8" stroke="#2a2a2a" stroke-width="0.75" transform="rotate(285.5 492.8 98.2)"/><rect x="522.3" y="96.9" width="24.3" height="2.6" fill="#b8b8b8" stroke="#2a2a2a" stroke-width="0.75" transform="rotate(297.5 492.8 98.2)"/><rect x="522.3" y="96.9" width="24.3" height="2.6" fill="#b8b8b8" stroke="#2a2a2a" stroke-width="0.75" transform="rotate(309.5 492.8 98.2)"/><rect x="522.3" y="96.9" width="24.3" height="2.6" fill="#b8b8b8" stroke="#2a2a2a" stroke-width="0.75" transform="rotate(321.5 492.8 98.2)"/><rect x="522.3" y="96.9" width="24.3" height="2.6" fill="#b8b8b8" stroke="#2a2a2a" stroke-width="0.75" transform="rotate(333.5 492.8 98.2)"/><rect x="522.3" y="96.9" width="24.3" height="2.6" fill="#b8b8b8" stroke="#2a2a2a" stroke-width="0.75" transform="rotate(345.5 492.8 98.2)"/><rect x="522.3" y="96.9" width="24.3" height="2.6" fill="#b8b8b8" stroke="#2a2a2a" stroke-width="0.75" transform="rotate(357.5 492.8 98.2)"/></g>
<circle cx="492.8" cy="98.2" r="53.5" fill="none" stroke="#2a2a2a" stroke-width="1"/>
<circle cx="492.8" cy="98.2" r="30" fill="#fff" stroke="#2a2a2a" stroke-width="1.1"/>
<path d="M477.4,98.6 L499.5,85.8 Q496,98 499.5,110.8 Z" fill="none" stroke="#2a2a2a" stroke-width="1"/>
<path d="M481.8,98.6 L495.5,90.8 Q489,96 489.5,104.5 Z" fill="none" stroke="#2a2a2a" stroke-width="0.8"/>
<text transform="translate(507.2,99.8) rotate(-90)" font-size="7.2" font-weight="bold" text-anchor="middle" fill="#2a2a2a">ARCTIC</text>
<path d="M427.3,218.4 C427.5,250 434,266 445,271.6 L466.5,272 V218.4 Z" fill="#fff" stroke="#2a2a2a" stroke-width="1.6"/>
<path d="M432.2,220.2 C432.5,250 440,265 452.4,270.8" fill="none" stroke="#2a2a2a" stroke-width="0.9"/>
<path d="M441.5,218.4 V252 Q443,262 451.3,271 M451.3,218.4 Q453,250 472,269" fill="none" stroke="#2a2a2a" stroke-width="1.1"/>
<path d="M435,222 Q440,236 442,246 Q440,250 441,254 M437,224 Q441,240 440,250" fill="none" stroke="#2a2a2a" stroke-width="0.8"/>
<path d="M465.5,218.4 V268.6 M468.8,218.4 V268.6" fill="none" stroke="#2a2a2a" stroke-width="1"/>
<path d="M453,224 Q460,245 466,250 M456,222 Q462,238 466,246" fill="none" stroke="#2a2a2a" stroke-width="0.8"/>
<path d="M475.4,218.4 V252 M487.5,218.4 V252 M500,218.4 V252 M502.8,218.4 V254 M509.3,218.4 V254" fill="none" stroke="#2a2a2a" stroke-width="1"/>
<path d="M476,222 Q482,238 487,248 M476,230 Q480,242 483,250" fill="none" stroke="#2a2a2a" stroke-width="0.9"/>
<path d="M504,224 Q508,236 506,250" fill="none" stroke="#2a2a2a" stroke-width="0.8"/>
<path d="M509.3,218.4 Q509.5,255 516,267.6 Q518,269 520.8,267.6 Q530,250 530.6,218.4" fill="#fff" stroke="#2a2a2a" stroke-width="1.1"/>
<path d="M456,250.5 H509 M457,253 H509 M462,256.5 H512 M463,258.5 H512" fill="none" stroke="#2a2a2a" stroke-width="0.8"/>
<path d="M478.2,261 H513.2 V269.2 H478.2 Z M489,261 V269.2 M502.2,261 V269.2" fill="#fff" stroke="#2a2a2a" stroke-width="0.9"/>
<path d="M466.5,269.2 H525.7 V280.4 H466.5 Z" fill="#fff" stroke="#2a2a2a" stroke-width="1.1"/>
<path d="M469,269.2 V277.8 H523.5 V269.2" fill="none" stroke="#2a2a2a" stroke-width="0.8"/>
<rect x="493" y="269.7" width="6" height="3.9" fill="#222"/>
<path d="M472,269.2 V276 M520,269.2 V276" fill="none" stroke="#2a2a2a" stroke-width="0.8"/>
<line x1="427.3" y1="218.4" x2="533.3" y2="218.4" stroke="#2a2a2a" stroke-width="1.3" />
<rect x="428.4" y="181" width="129.2" height="17.7" fill="#fff" stroke="#2a2a2a" stroke-width="1.2"/>
<rect x="426" y="198.7" width="133.5" height="19.7" fill="#fff" stroke="#2a2a2a" stroke-width="1.2"/>
<path d="M533.3,271 V212 Q536,204 546,203.8 Q556,204 559.5,210 L560.7,249 Q560,266 555,272.5 Q551,276.5 545,276.5 H533.3" fill="#fff" stroke="#2a2a2a" stroke-width="1.1"/>
<path d="M533.3,213.5 Q545,209 559.5,212.5 M537.8,212 V272 M546,204 Q551,212 549,218 M549,218 Q545,235 548,252 Q551,262 547,276" fill="none" stroke="#2a2a2a" stroke-width="0.8"/>
<path d="M537.8,233 H559.8 M540,251 H560.5" fill="none" stroke="#2a2a2a" stroke-width="0.8"/>
<line x1="533.3" y1="218.5" x2="559.8" y2="218.5" stroke="#2a2a2a" stroke-width="1.4" />
<rect x="526" y="270" width="11" height="7.5" fill="#fff" stroke="#2a2a2a" stroke-width="0.8"/>
<path d="M559.8,216 H585.2 V241.2 H560.2" fill="#fff" stroke="#2a2a2a" stroke-width="1"/>
<path d="M566,205 V211 Q566,223 573.8,223 Q581.5,223 581.5,211 V205" fill="#fff" stroke="#2a2a2a" stroke-width="1.1"/>
<path d="M567.5,218 Q573.8,213.5 580,218" fill="none" stroke="#2a2a2a" stroke-width="0.9"/>
<rect x="565" y="161.3" width="16.8" height="21.5" fill="#fff" stroke="#2a2a2a" stroke-width="1.1"/>
<path d="M560,182.5 H587.5 V200 Q587.5,206 581.5,206 H566 Q560,206 560,200 Z" fill="#fff" stroke="#2a2a2a" stroke-width="1.1"/>
<rect x="560.6" y="183.2" width="26.3" height="12.3" rx="1.5" fill="#3a3a3a"/>
<rect x="562.55" y="185" width="1.5" height="8.8" fill="#f0f0f0"/>
<rect x="566.05" y="185" width="1.5" height="8.8" fill="#f0f0f0"/>
<rect x="569.55" y="185" width="1.5" height="8.8" fill="#f0f0f0"/>
<rect x="573.05" y="185" width="1.5" height="8.8" fill="#f0f0f0"/>
<rect x="576.55" y="185" width="1.5" height="8.8" fill="#f0f0f0"/>
<rect x="580.05" y="185" width="1.5" height="8.8" fill="#f0f0f0"/>
<rect x="583.55" y="185" width="1.5" height="8.8" fill="#f0f0f0"/>
<rect x="246.3" y="335.6" width="155.9" height="33.6" fill="#fff" stroke="#2a2a2a" stroke-width="1.1"/>
<line x1="246.3" y1="342.2" x2="402.2" y2="342.2" stroke="#2a2a2a" stroke-width="1.1" />
<line x1="250.5" y1="343.8" x2="398" y2="343.8" stroke="#2a2a2a" stroke-width="0.9" />
<line x1="246.3" y1="362.6" x2="402.2" y2="362.6" stroke="#2a2a2a" stroke-width="1.1" />
<line x1="250.5" y1="361" x2="398" y2="361" stroke="#2a2a2a" stroke-width="0.9" />
<line x1="250.5" y1="335.6" x2="250.5" y2="342.6" stroke="#2a2a2a" stroke-width="1" />
<line x1="250.5" y1="362.2" x2="250.5" y2="369.2" stroke="#2a2a2a" stroke-width="1" />
<line x1="398" y1="335.6" x2="398" y2="342.6" stroke="#2a2a2a" stroke-width="1" />
<line x1="398" y1="362.2" x2="398" y2="369.2" stroke="#2a2a2a" stroke-width="1" />
<rect x="258.5" y="343.5" width="13.5" height="18" fill="#fff" stroke="#2a2a2a" stroke-width="1.2"/>
<line x1="261" y1="343.5" x2="261" y2="361.5" stroke="#2a2a2a" stroke-width="0.8" />
<rect x="380" y="343.5" width="12.8" height="18" fill="#fff" stroke="#2a2a2a" stroke-width="1.2"/>
<line x1="382.5" y1="343.5" x2="382.5" y2="361.5" stroke="#2a2a2a" stroke-width="0.8" />
<rect x="251.5" y="333.6" width="5.5" height="2" fill="#222"/>
<rect x="394.8" y="333.6" width="5.5" height="2" fill="#222"/>
<rect x="409" y="335.6" width="155.4" height="33.6" fill="#fff" stroke="#2a2a2a" stroke-width="1.1"/>
<line x1="409" y1="342.2" x2="564.4" y2="342.2" stroke="#2a2a2a" stroke-width="1.1" />
<line x1="413.2" y1="343.8" x2="560.2" y2="343.8" stroke="#2a2a2a" stroke-width="0.9" />
<line x1="409" y1="362.6" x2="564.4" y2="362.6" stroke="#2a2a2a" stroke-width="1.1" />
<line x1="413.2" y1="361" x2="560.2" y2="361" stroke="#2a2a2a" stroke-width="0.9" />
<line x1="413.2" y1="335.6" x2="413.2" y2="342.6" stroke="#2a2a2a" stroke-width="1" />
<line x1="413.2" y1="362.2" x2="413.2" y2="369.2" stroke="#2a2a2a" stroke-width="1" />
<line x1="560.2" y1="335.6" x2="560.2" y2="342.6" stroke="#2a2a2a" stroke-width="1" />
<line x1="560.2" y1="362.2" x2="560.2" y2="369.2" stroke="#2a2a2a" stroke-width="1" />
<rect x="417" y="343.5" width="13" height="18" fill="#fff" stroke="#2a2a2a" stroke-width="1.2"/>
<line x1="419.5" y1="343.5" x2="419.5" y2="361.5" stroke="#2a2a2a" stroke-width="0.8" />
<rect x="539.2" y="343.5" width="11.8" height="18" fill="#fff" stroke="#2a2a2a" stroke-width="1.2"/>
<line x1="541.7" y1="343.5" x2="541.7" y2="361.5" stroke="#2a2a2a" stroke-width="0.8" />
<rect x="410.8" y="333.6" width="5.5" height="2" fill="#222"/>
<rect x="553.5" y="333.6" width="5.5" height="2" fill="#222"/>
<line x1="405.6" y1="335.6" x2="405.6" y2="369.2" stroke="#2a2a2a" stroke-width="1" />
<path d="M223.6,371.2 H245.5 L247.8,373 H565 L566,371.2 H587.8 V415.8 H566 L565,414 H247.8 L245.5,415.8 H223.6 Z" fill="#fff" stroke="#2a2a2a" stroke-width="1.1"/>
<line x1="248" y1="373" x2="565" y2="373" stroke="#2a2a2a" stroke-width="1.4" />
<line x1="248" y1="414" x2="565" y2="414" stroke="#2a2a2a" stroke-width="1.4" />
<rect x="570.6" y="368.3" width="11" height="3" fill="#fff" stroke="#2a2a2a" stroke-width="1"/>
<path d="M572.2,368.3 V349 Q572.2,347.2 574,347.2 H578.8 Q580.6,347.2 580.6,349 V368.3" fill="#fff" stroke="#2a2a2a" stroke-width="1.1"/>
<rect x="571.6" y="349.2" width="9.6" height="1.5" fill="#333"/>
<rect x="571.6" y="353.6" width="9.6" height="1.5" fill="#333"/>
<rect x="571.6" y="358.2" width="9.6" height="1.5" fill="#333"/>
<rect x="571.6" y="362.6" width="9.6" height="1.5" fill="#333"/>
<rect x="572.8" y="350.8" width="7.2" height="1.6" fill="#aaa"/>
<rect x="572.8" y="355.2" width="7.2" height="1.6" fill="#aaa"/>
<defs><pattern id="fins" x="0" y="0" width="2" height="10" patternUnits="userSpaceOnUse"><rect x="0" y="0" width="1" height="10" fill="#6a6a6a"/><rect x="1" y="0" width="1" height="10" fill="#f4f4f4"/></pattern></defs>
<rect x="223.6" y="430.6" width="363.2" height="158.6" fill="#fff" stroke="#2a2a2a" stroke-width="1"/>
<line x1="246" y1="432.6" x2="565" y2="432.6" stroke="#2a2a2a" stroke-width="0.9" />
<line x1="246" y1="587.3" x2="565" y2="587.3" stroke="#2a2a2a" stroke-width="0.9" />
<line x1="246" y1="431" x2="246" y2="589" stroke="#2a2a2a" stroke-width="1.6" />
<line x1="565.2" y1="431" x2="565.2" y2="589" stroke="#2a2a2a" stroke-width="1.2" />
<rect x="246.8" y="443.5" width="318" height="133.5" fill="url(#fins)"/>
<line x1="246" y1="444" x2="565.2" y2="444" stroke="#222" stroke-width="1.3" />
<line x1="246" y1="454.18" x2="565.2" y2="454.18" stroke="#222" stroke-width="1.3" />
<line x1="246" y1="464.35" x2="565.2" y2="464.35" stroke="#222" stroke-width="1.3" />
<line x1="246" y1="474.53" x2="565.2" y2="474.53" stroke="#222" stroke-width="1.3" />
<line x1="246" y1="484.71" x2="565.2" y2="484.71" stroke="#222" stroke-width="1.3" />
<line x1="246" y1="494.88" x2="565.2" y2="494.88" stroke="#222" stroke-width="1.3" />
<line x1="246" y1="505.06" x2="565.2" y2="505.06" stroke="#222" stroke-width="1.3" />
<line x1="246" y1="515.24" x2="565.2" y2="515.24" stroke="#222" stroke-width="1.3" />
<line x1="246" y1="525.42" x2="565.2" y2="525.42" stroke="#222" stroke-width="1.3" />
<line x1="246" y1="535.59" x2="565.2" y2="535.59" stroke="#222" stroke-width="1.3" />
<line x1="246" y1="545.77" x2="565.2" y2="545.77" stroke="#222" stroke-width="1.3" />
<line x1="246" y1="555.95" x2="565.2" y2="555.95" stroke="#222" stroke-width="1.3" />
<line x1="246" y1="566.12" x2="565.2" y2="566.12" stroke="#222" stroke-width="1.3" />
<line x1="246" y1="576.3" x2="565.2" y2="576.3" stroke="#222" stroke-width="1.3" />
<rect x="260.6" y="436.2" width="128.9" height="7" rx="3" fill="url(#fins)" stroke="#1e1e1e" stroke-width="1"/>
<rect x="421.7" y="436.2" width="129.3" height="7" rx="3" fill="url(#fins)" stroke="#1e1e1e" stroke-width="1"/>
<rect x="260.6" y="577.3" width="128.9" height="6.5" rx="3" fill="url(#fins)" stroke="#1e1e1e" stroke-width="1"/>
<rect x="421.7" y="577.3" width="129.3" height="6.5" rx="3" fill="url(#fins)" stroke="#1e1e1e" stroke-width="1"/>
<path d="M249,439.4 H257 M253,435.4 V443.4" stroke="#1e1e1e" stroke-width="0.9"/><circle cx="253" cy="439.4" r="1.3" fill="#1e1e1e"/>
<path d="M392.5,439.4 H400.5 M396.5,435.4 V443.4" stroke="#1e1e1e" stroke-width="0.9"/><circle cx="396.5" cy="439.4" r="1.3" fill="#1e1e1e"/>
<path d="M410.4,439.4 H418.4 M414.4,435.4 V443.4" stroke="#1e1e1e" stroke-width="0.9"/><circle cx="414.4" cy="439.4" r="1.3" fill="#1e1e1e"/>
<path d="M554,439.4 H562 M558,435.4 V443.4" stroke="#1e1e1e" stroke-width="0.9"/><circle cx="558" cy="439.4" r="1.3" fill="#1e1e1e"/>
<path d="M248.5,581 H256.5 M252.5,577 V585" stroke="#1e1e1e" stroke-width="0.9"/><circle cx="252.5" cy="581" r="1.3" fill="#1e1e1e"/>
<path d="M392.5,581 H400.5 M396.5,577 V585" stroke="#1e1e1e" stroke-width="0.9"/><circle cx="396.5" cy="581" r="1.3" fill="#1e1e1e"/>
<path d="M410.4,581 H418.4 M414.4,577 V585" stroke="#1e1e1e" stroke-width="0.9"/><circle cx="414.4" cy="581" r="1.3" fill="#1e1e1e"/>
<path d="M554,581 H562 M558,577 V585" stroke="#1e1e1e" stroke-width="0.9"/><circle cx="558" cy="581" r="1.3" fill="#1e1e1e"/>
<path d="M566,495.3 H585 M575.9,486.3 V504.3" stroke="#2a2a2a" stroke-width="0.8"/>
<circle cx="575.9" cy="495.3" r="6.8" fill="#fff" stroke="#2a2a2a" stroke-width="1.3"/>
<circle cx="575.9" cy="495.3" r="4.2" fill="none" stroke="#2a2a2a" stroke-width="1.3"/>
<rect x="573.6" y="494.1" width="4.6" height="2.4" fill="#222"/>
<path d="M566,524 H585 M575.9,515 V533" stroke="#2a2a2a" stroke-width="0.8"/>
<circle cx="575.9" cy="524" r="6.8" fill="#fff" stroke="#2a2a2a" stroke-width="1.3"/>
<circle cx="575.9" cy="524" r="4.2" fill="none" stroke="#2a2a2a" stroke-width="1.3"/>
<rect x="573.6" y="522.8" width="4.6" height="2.4" fill="#222"/>
<rect x="150.5" y="431.4" width="43.3" height="158" fill="#fff" stroke="#505050" stroke-width="1.5"/>
<line x1="150.5" y1="433.3" x2="193.8" y2="433.3" stroke="#505050" stroke-width="1.1" />
<line x1="150.5" y1="587.4" x2="193.8" y2="587.4" stroke="#505050" stroke-width="1.1" />
<rect x="147.4" y="486.8" width="3.6" height="13.2" fill="#fff" stroke="#2a2a2a" stroke-width="0.9"/>
<line x1="149.2" y1="486.8" x2="149.2" y2="500" stroke="#777" stroke-width="0.6" />
<rect x="140.5" y="488.7" width="6.9" height="9.4" fill="#fff" stroke="#2a2a2a" stroke-width="0.9"/>
<path d="M127,488.7 L123.4,488.7 L122.5,489.9 V496.9 L123.4,498.1 L127,498.1" fill="#f4f4f4" stroke="#2a2a2a" stroke-width="0.85"/>
<line x1="124.1" y1="489.2" x2="124.1" y2="497.6" stroke="#888" stroke-width="0.7" />
<path d="M131.5,488.7 L127.9,488.7 L127,489.9 V496.9 L127.9,498.1 L131.5,498.1" fill="#f4f4f4" stroke="#2a2a2a" stroke-width="0.85"/>
<line x1="128.6" y1="489.2" x2="128.6" y2="497.6" stroke="#888" stroke-width="0.7" />
<path d="M136,488.7 L132.4,488.7 L131.5,489.9 V496.9 L132.4,498.1 L136,498.1" fill="#f4f4f4" stroke="#2a2a2a" stroke-width="0.85"/>
<line x1="133.1" y1="489.2" x2="133.1" y2="497.6" stroke="#888" stroke-width="0.7" />
<path d="M140.5,488.7 L136.9,488.7 L136,489.9 V496.9 L136.9,498.1 L140.5,498.1" fill="#f4f4f4" stroke="#2a2a2a" stroke-width="0.85"/>
<line x1="137.6" y1="489.2" x2="137.6" y2="497.6" stroke="#888" stroke-width="0.7" />
<line x1="122.5" y1="488.7" x2="140.5" y2="488.7" stroke="#2a2a2a" stroke-width="0.9" />
<line x1="122.5" y1="498.1" x2="140.5" y2="498.1" stroke="#2a2a2a" stroke-width="0.9" />
<rect x="147.4" y="520" width="3.6" height="13.2" fill="#fff" stroke="#2a2a2a" stroke-width="0.9"/>
<line x1="149.2" y1="520" x2="149.2" y2="533.2" stroke="#777" stroke-width="0.6" />
<rect x="140.5" y="521.9" width="6.9" height="9.4" fill="#fff" stroke="#2a2a2a" stroke-width="0.9"/>
<path d="M127,521.9 L123.4,521.9 L122.5,523.1 V530.1 L123.4,531.3 L127,531.3" fill="#f4f4f4" stroke="#2a2a2a" stroke-width="0.85"/>
<line x1="124.1" y1="522.4" x2="124.1" y2="530.8" stroke="#888" stroke-width="0.7" />
<path d="M131.5,521.9 L127.9,521.9 L127,523.1 V530.1 L127.9,531.3 L131.5,531.3" fill="#f4f4f4" stroke="#2a2a2a" stroke-width="0.85"/>
<line x1="128.6" y1="522.4" x2="128.6" y2="530.8" stroke="#888" stroke-width="0.7" />
<path d="M136,521.9 L132.4,521.9 L131.5,523.1 V530.1 L132.4,531.3 L136,531.3" fill="#f4f4f4" stroke="#2a2a2a" stroke-width="0.85"/>
<line x1="133.1" y1="522.4" x2="133.1" y2="530.8" stroke="#888" stroke-width="0.7" />
<path d="M140.5,521.9 L136.9,521.9 L136,523.1 V530.1 L136.9,531.3 L140.5,531.3" fill="#f4f4f4" stroke="#2a2a2a" stroke-width="0.85"/>
<line x1="137.6" y1="522.4" x2="137.6" y2="530.8" stroke="#888" stroke-width="0.7" />
<line x1="122.5" y1="521.9" x2="140.5" y2="521.9" stroke="#2a2a2a" stroke-width="0.9" />
<line x1="122.5" y1="531.3" x2="140.5" y2="531.3" stroke="#2a2a2a" stroke-width="0.9" />
<line x1="610.8" y1="33.8" x2="610.8" y2="92.5" stroke="#6a6a6a" stroke-width="1" />
<line x1="610.8" y1="107.5" x2="610.8" y2="166" stroke="#6a6a6a" stroke-width="1" />
<line x1="609.6" y1="33.8" x2="612" y2="33.8" stroke="#6a6a6a" stroke-width="1" />
<line x1="609.6" y1="166" x2="612" y2="166" stroke="#6a6a6a" stroke-width="1" />
<text x="597.4" y="102.9" font-size="9.8" fill="#333" textLength="26.9" lengthAdjust="spacingAndGlyphs">91<tspan dx="1">mm</tspan></text>
<line x1="610.8" y1="180" x2="610.8" y2="224" stroke="#6a6a6a" stroke-width="1" />
<line x1="610.8" y1="238" x2="610.8" y2="281.3" stroke="#6a6a6a" stroke-width="1" />
<line x1="609.6" y1="180" x2="612" y2="180" stroke="#6a6a6a" stroke-width="1" />
<line x1="609.6" y1="281.3" x2="612" y2="281.3" stroke="#6a6a6a" stroke-width="1" />
<text x="594" y="233.9" font-size="9.8" fill="#333" textLength="33.6" lengthAdjust="spacingAndGlyphs">68.5<tspan dx="1">mm</tspan></text>
<line x1="426" y1="299.1" x2="484.5" y2="299.1" stroke="#6a6a6a" stroke-width="1.1" />
<line x1="529" y1="299.1" x2="588.2" y2="299.1" stroke="#6a6a6a" stroke-width="1.1" />
<line x1="426.3" y1="297.9" x2="426.3" y2="300.3" stroke="#6a6a6a" stroke-width="1.2" />
<line x1="588" y1="297.9" x2="588" y2="300.3" stroke="#6a6a6a" stroke-width="1.2" />
<text x="488.3" y="302" font-size="9.8" fill="#333" textLength="38.4" lengthAdjust="spacingAndGlyphs">108.5<tspan dx="1">mm</tspan></text>
<line x1="223.3" y1="320.7" x2="246.7" y2="320.7" stroke="#6a6a6a" stroke-width="1.1" />
<line x1="223.5" y1="319.5" x2="223.5" y2="321.9" stroke="#6a6a6a" stroke-width="1.2" />
<line x1="246.5" y1="319.5" x2="246.5" y2="321.9" stroke="#6a6a6a" stroke-width="1.2" />
<text x="253.7" y="323.3" font-size="9.8" fill="#333" textLength="26.4" lengthAdjust="spacingAndGlyphs">19<tspan dx="1">mm</tspan></text>
<line x1="610.6" y1="334.2" x2="610.6" y2="368" stroke="#6a6a6a" stroke-width="1" />
<line x1="610.6" y1="383" x2="610.6" y2="416.3" stroke="#6a6a6a" stroke-width="1" />
<line x1="609.4" y1="334.2" x2="611.8" y2="334.2" stroke="#6a6a6a" stroke-width="1" />
<line x1="609.4" y1="416.3" x2="611.8" y2="416.3" stroke="#6a6a6a" stroke-width="1" />
<text x="594.3" y="378.6" font-size="9.8" fill="#333" textLength="33.3" lengthAdjust="spacingAndGlyphs">67.5<tspan dx="1">mm</tspan></text>
<line x1="611" y1="430.7" x2="611" y2="503" stroke="#6a6a6a" stroke-width="1" />
<line x1="611" y1="518" x2="611" y2="565.6" stroke="#6a6a6a" stroke-width="1" />
<line x1="609.8" y1="430.7" x2="612.2" y2="430.7" stroke="#6a6a6a" stroke-width="1" />
<text x="595.9" y="513.3" font-size="9.8" fill="#333" textLength="30.4" lengthAdjust="spacingAndGlyphs">138<tspan dx="1">mm</tspan></text>
<line x1="149" y1="606.7" x2="155.8" y2="606.7" stroke="#6a6a6a" stroke-width="1.1" />
<line x1="188.2" y1="606.7" x2="195" y2="606.7" stroke="#6a6a6a" stroke-width="1.1" />
<line x1="149.3" y1="605.5" x2="149.3" y2="607.9" stroke="#6a6a6a" stroke-width="1.2" />
<line x1="194.7" y1="605.5" x2="194.7" y2="607.9" stroke="#6a6a6a" stroke-width="1.2" />
<text x="159.4" y="609.3" font-size="9.8" fill="#333" textLength="26" lengthAdjust="spacingAndGlyphs">38<tspan dx="1">mm</tspan></text>
<line x1="223.4" y1="606.7" x2="386" y2="606.7" stroke="#6a6a6a" stroke-width="1.1" />
<line x1="424.9" y1="606.7" x2="470" y2="606.7" stroke="#6a6a6a" stroke-width="1.1" />
<line x1="223.7" y1="605.5" x2="223.7" y2="607.9" stroke="#6a6a6a" stroke-width="1.2" />
<text x="390.3" y="610" font-size="9.8" fill="#333" textLength="31.2" lengthAdjust="spacingAndGlyphs">317<tspan dx="1">mm</tspan></text>
<path d="M452.3,640 V572.5 Q452.3,566.2 458.5,566.2 H658 V640 Z" fill="#fff"/>
<text x="471.2" y="592.4" font-size="13.9" font-weight="bold" stroke-width="0.45" textLength="149.5" lengthAdjust="spacingAndGlyphs"><tspan fill="#8cc58c" stroke="#8cc58c">CDN</tspan><tspan fill="#2f8a2f" stroke="#2f8a2f">CDN</tspan><tspan fill="#8cc58c" stroke="#8cc58c">CDN</tspan><tspan fill="#2f8a2f" stroke="#2f8a2f">CDN</tspan><tspan fill="#8cc58c" stroke="#8cc58c">CDN</tspan></text>
<text x="473.5" y="607.5" font-size="13.9" font-weight="bold" fill="#2a862a" stroke="#2a862a" stroke-width="0.45" textLength="145.7" lengthAdjust="spacingAndGlyphs">DataImgStore.com</text>
<text x="471.2" y="625.3" font-size="13.9" font-weight="bold" stroke-width="0.45" textLength="149.5" lengthAdjust="spacingAndGlyphs"><tspan fill="#2f8a2f" stroke="#2f8a2f">CDN</tspan><tspan fill="#8cc58c" stroke="#8cc58c">CDN</tspan><tspan fill="#2f8a2f" stroke="#2f8a2f">CDN</tspan><tspan fill="#8cc58c" stroke="#8cc58c">CDN</tspan><tspan fill="#2f8a2f" stroke="#2f8a2f">CDN</tspan></text>
</svg></body></html>
